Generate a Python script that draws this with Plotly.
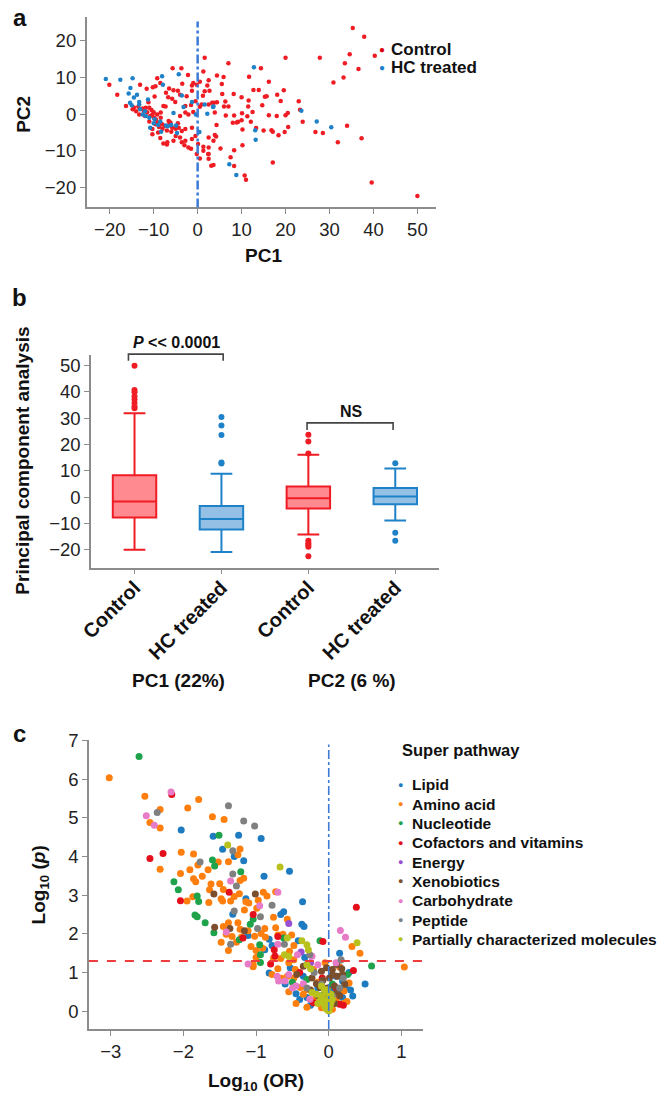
import plotly.graph_objects as go

# ---------------- panel a : PCA scores (PC1, PC2) ----------------
control_pts = [
    (-20.1, 8.0), (-18.3, 5.3), (-16.3, 2.2), (-14.8, 1.3), (-14.0, 0.8), (-13.3, -0.1), (-12.2, 0.8), (-11.8, 1.7),
    (-13.1, 8.0), (-11.6, 6.9), (-10.2, 7.3), (-9.2, 9.8), (-9.8, 4.8), (-9.6, 7.6), (-11.2, 3.2), (-10.5, 1.1),
    (-10.3, -0.1), (-9.9, -1.0), (-9.2, -0.1), (-8.4, 0.4), (-7.8, 2.2), (-7.3, 2.1), (-7.2, 5.8), (-5.7, 12.5),
    (-3.7, 12.5), (-5.5, 6.5), (-6.7, 4.6), (-5.8, 4.2), (-5.1, 3.3), (-4.0, 5.3), (-4.5, 6.4), (-2.8, 2.2),
    (-2.8, 0.4), (-2.2, 10.7), (-1.3, 7.8), (-1.0, 8.5), (-0.2, 8.0), (-1.3, 6.4), (-2.5, 4.9), (-2.1, -0.1),
    (-1.0, 0.6), (-8.1, -2.8), (-9.2, -2.3), (-6.6, -1.9), (-6.2, -2.3), (-5.8, -3.7), (-4.3, -3.7), (-3.6, -4.6),
    (-2.8, -4.1), (-1.3, -3.7), (-10.3, -5.5), (-6.9, -7.7), (-5.5, -7.3), (-4.0, -6.4), (-3.6, -7.7), (-2.8, -7.3),
    (-2.1, -9.1), (-1.3, -6.8), (0.1, -8.2), (1.3, -8.9), (1.3, -10.0), (-0.2, -10.9), (0.5, -12.1), (2.4, -10.9),
    (3.1, -14.1), (2.5, -9.1), (1.6, 6.2), (2.5, 2.6), (0.9, 2.6), (3.7, 3.1), (2.2, 7.8), (1.3, 11.6), (1.6, 15.4),
    (-11.0, 1.7), (-9.6, -2.8), (-8.4, -1.0), (-10.3, -4.1),
    (-12.5, 1.5), (-11.5, 0.5), (-10.8, -0.5), (-9.5, -1.5), (-8.8, -3.5), (-8.0, -4.0), (-7.5, -3.2), (-7.0, -4.5),
    (-6.5, -3.0), (-6.0, -4.8), (-5.0, -4.0), (-4.5, -2.5), (-9.0, -5.0), (-8.5, -6.5), (-7.8, -8.0), (-7.0, -8.3),
    (-5.0, -6.0), (-3.0, -8.5), (-1.5, -9.5), (-0.5, -6.0), (-13.5, 2.0), (-12.0, -0.5), (-11.0, -2.0), (-14.5, 1.8),
    (-10.0, 0.5), (-4.0, -0.5), (-1.5, 2.5), (-0.5, 3.5), (0.5, 8.8), (1.2, 5.0), (0.5, 2.0), (-3.5, 8.3),
    (-6.5, 7.0), (-8.5, 8.5),
    (35.3, 23.5), (37.9, 21.1), (20.0, 15.4), (27.8, 15.4), (34.6, 16.3), (40.3, 15.9), (33.5, 13.9), (36.6, 12.3),
    (7.0, 13.9), (14.4, 12.5), (11.7, 10.2), (16.2, 8.8), (30.9, 8.6), (33.2, 10.0), (4.4, 10.5), (5.9, 10.1),
    (2.5, 9.2), (5.5, 8.2), (2.7, 6.4), (5.6, 5.5), (8.2, 5.5), (10.0, 4.6), (12.7, 6.6), (13.9, 6.6),
    (15.3, 4.7), (15.7, 4.9), (11.6, 3.7), (11.5, 2.1), (14.7, 2.4), (18.1, 5.3), (19.6, 6.5), (18.9, 3.6),
    (23.0, 3.5), (3.3, 3.1), (4.4, 3.2), (6.3, 3.4), (7.0, 2.1), (6.0, 2.1), (3.9, 0.4), (6.4, -0.4),
    (8.3, -0.4), (10.1, 0.2), (11.3, -0.6), (12.5, 0.6), (16.2, -0.3), (18.0, -0.5), (20.0, -0.3), (20.5, 0.3),
    (23.3, 1.2), (23.9, -2.1), (4.3, -3.0), (8.0, -2.4), (8.9, -2.3), (9.2, -2.1), (10.0, -1.7), (12.1, -2.1),
    (10.2, -4.2), (13.3, -3.8), (15.0, -4.5), (16.8, -4.4), (17.1, -4.8), (18.4, -5.8), (19.8, -4.9), (20.6, -3.5),
    (26.8, -4.9), (28.5, -5.2), (34.0, -3.2), (31.9, -7.7), (37.3, -6.6), (3.9, -5.7), (4.2, -6.1), (3.6, -7.3),
    (5.2, -9.4), (8.3, -9.9), (10.2, -8.5), (7.5, -11.8), (8.3, -14.2), (3.6, -13.9), (10.7, -16.8), (11.0, -17.9),
    (17.1, -13.2), (39.6, -18.7), (50.0, -22.4), (2.5, -10.9), (2.5, -12.2), (2.5, -6.4),
]
hc_pts = [
    (-20.9, 9.6), (-17.6, 9.4), (-14.8, 9.8), (-15.3, 7.1), (-13.8, 5.3), (-15.7, 5.6), (-15.4, 3.1), (-15.0, 2.4),
    (-13.3, 3.3), (-13.3, 2.6), (-13.1, 1.3), (-11.3, 4.0), (-12.5, -0.1), (-11.8, -0.5), (-10.8, -3.7), (-9.8, -1.4),
    (-8.1, 10.3), (-7.9, 8.0), (-5.5, 0.3), (-4.3, 10.9), (-3.2, 1.9), (-3.6, 5.1), (-1.3, 3.3), (-7.2, -3.1),
    (-8.3, -4.8), (-6.8, -3.3), (-4.9, -3.1), (-4.7, -5.2), (0.4, -4.9), (1.6, 2.6), (2.2, 0.1), (-0.4, -0.1),
    (3.5, 1.9), (-12.0, 0.8), (-11.0, -1.0), (-10.0, -2.5), (-9.0, -3.0), (-6.0, -3.0), (-8.5, -2.0), (-14.5, 4.5),
    (12.8, 12.8), (3.6, 2.1), (23.6, 0.9), (27.1, -2.0), (30.4, -3.6), (13.1, -4.4), (13.2, -7.0), (7.2, -13.7),
    (8.8, -16.6),
]
pca_groups = [("Control", "#d9000b"), ("HC treated", "#1a80cc")]

# ---------------- panel b : box plots ----------------
box_groups = ["Control", "HC treated", "Control", "HC treated"]
box_q1 = [-7.8, -12.3, -4.3, -2.7]
box_median = [-1.7, -8.3, -0.4, 0.2]
box_q3 = [8.3, -3.4, 4.0, 3.5]
box_low = [-20.0, -20.9, -14.2, -8.9]
box_high = [31.9, 8.9, 16.1, 10.9]
outliers = [
    [50.0, 40.7, 39.9, 38.3, 37.1, 35.8, 34.5, 33.8],
    [30.5, 27.2, 23.6, 13.2, 12.8],
    [23.7, 21.1, 16.6, -16.6, -17.6, -18.2, -18.9, -22.5],
    [12.9, -13.6, -16.6],
]

# ---------------- panel c : volcano by super pathway ----------------
lipid_pts = [
    (-2.03, 4.69), (-1.59, 4.53), (-1.24, 4.55), (-0.93, 4.47), (-1.46, 4.19), (-1.30, 4.00), (-1.17, 3.89),
    (-0.89, 3.49), (-1.32, 2.51), (-1.14, 2.91), (-0.54, 3.62), (-0.36, 2.83), (-0.62, 2.57), (-0.66, 2.50),
    (-0.37, 2.25), (-0.34, 2.19), (-1.11, 1.96), (-0.82, 1.86), (-0.42, 1.82), (-0.88, 1.59), (-0.78, 1.70),
    (-0.33, 1.39), (0.15, 1.50), (0.50, 0.70), (0.33, 0.39), (-0.82, 0.99), (-0.53, 1.12), (-0.30, 1.21),
    (0.19, 0.35), (0.24, 0.61), (0.19, 0.78), (-0.30, 0.35), (-0.45, 0.45), (-0.35, 0.90), (-0.60, 0.70),
    (-0.15, 0.60), (0.10, 0.90), (-0.05, 0.15), (-0.25, 0.15), (0.05, 0.55), (0.28, 1.00), (-0.40, 0.30),
    (0.15, 1.15), (0.30, 0.55),
]
amino_pts = [
    (-3.02, 6.04), (-2.53, 5.56), (-1.79, 5.48), (-2.32, 5.22), (-1.94, 5.26), (-2.46, 4.88), (-2.32, 4.74),
    (-1.60, 5.03), (-1.44, 4.96), (-1.22, 4.20), (-1.25, 4.05), (-2.03, 4.11), (-1.86, 4.07), (-2.32, 3.67),
    (-1.52, 3.86), (-1.38, 3.87), (-1.80, 3.78), (-1.66, 3.66), (-1.91, 3.66), (-2.04, 3.56), (-1.74, 3.49),
    (-1.17, 3.44), (-1.22, 3.38), (-1.62, 3.29), (-1.50, 3.30), (-1.83, 3.35), (-1.86, 3.43), (-1.64, 3.14),
    (-1.45, 3.15), (-1.23, 3.04), (-1.30, 2.97), (-1.87, 2.96), (-1.95, 2.85), (-1.65, 2.81), (-1.48, 2.91),
    (-1.46, 2.85), (-1.35, 2.85), (-1.10, 2.80), (-1.16, 2.62), (-1.38, 2.29), (-1.25, 2.29), (-1.45, 2.19),
    (-1.22, 2.12), (-0.85, 2.98), (-0.76, 2.43), (-0.57, 2.38), (-0.88, 2.14), (-0.73, 2.16), (-1.11, 2.08),
    (-1.20, 1.92), (-1.41, 1.99), (-1.33, 1.93), (-1.27, 1.78), (-1.48, 1.78), (-1.02, 1.94), (-0.93, 2.01),
    (-0.87, 1.91), (-0.70, 1.97), (-0.63, 1.99), (-0.51, 1.97), (-1.07, 1.67), (-1.00, 1.57), (-0.91, 1.63),
    (-0.48, 1.70), (-0.54, 1.55), (-1.38, 1.57), (-1.00, 1.39), (-0.76, 1.37), (-0.66, 1.36), (-0.48, 1.33),
    (-1.04, 1.21), (-0.55, 1.25), (0.32, 1.67), (0.43, 1.50), (1.04, 1.14), (-1.04, 1.15), (-0.97, 2.87),
    (-0.99, 2.66), (-0.90, 3.08), (-0.73, 3.09), (-1.14, 2.83), (-0.78, 0.95), (-0.46, 1.08), (-0.21, 1.08),
    (0.15, 1.14), (-0.57, 0.90), (-0.48, 0.86), (-0.39, 0.61), (-0.30, 0.56), (0.21, 0.52), (0.28, 0.73),
    (-0.35, 0.44), (-0.10, 0.09), (-0.65, 0.85), (-0.70, 1.10), (-0.20, 0.30), (0.10, 0.30), (-0.45, 0.20),
    (-0.55, 0.50), (0.25, 0.25), (-0.05, 1.25), (-0.15, 0.75), (0.05, 0.05), (-0.30, 0.10), (0.20, 0.20),
]
nucleotide_pts = [
    (-2.61, 6.59), (-1.51, 4.55), (-1.60, 3.91), (-1.57, 3.76), (-1.21, 3.61), (-2.13, 3.35), (-2.07, 3.14),
    (-1.81, 2.98), (-1.79, 2.84), (-1.84, 2.49), (-1.81, 2.44), (-1.70, 2.29), (-1.58, 2.03), (-1.04, 2.38),
    (-1.08, 2.25), (-1.23, 1.85), (-0.62, 1.89), (-0.12, 1.82), (-0.95, 1.72), (-0.94, 1.46), (-0.94, 1.26),
    (0.59, 1.17), (-0.30, 0.82), (0.26, 0.95), (-0.10, 0.40), (-0.50, 0.75), (0.05, 0.70),
]
cofactor_pts = [
    (-2.16, 5.61), (-2.46, 3.95), (-2.28, 4.08), (-1.37, 3.08), (-2.04, 2.86), (-1.04, 2.50), (-1.18, 1.89),
    (-0.70, 1.93), (-0.08, 1.80), (-0.75, 1.59), (-0.74, 1.43), (-0.80, 1.22), (0.34, 1.05), (0.38, 2.69),
    (-0.09, 0.86), (-0.21, 0.22), (0.15, 0.18), (0.20, 0.15), (-0.40, 1.00), (0.10, 0.60),
]
energy_pts = [(-0.55, 2.27), (-0.38, 1.53), (-0.25, 1.25), (-0.05, 0.50)]
xeno_pts = [
    (-1.58, 3.03), (-1.01, 3.03), (-1.57, 2.17), (-1.36, 2.14), (-1.16, 2.08), (0.11, 1.21), (-0.35, 1.16),
    (-0.10, 1.03), (-0.03, 1.12), (0.05, 1.08), (-0.44, 0.95), (-0.23, 0.86), (-0.17, 0.71), (0.01, 0.86),
    (0.12, 0.90), (0.19, 0.95), (-0.12, 0.61), (0.08, 0.65), (0.12, 0.48), (-0.05, 0.45), (0.00, 0.30),
    (0.15, 0.40), (-0.15, 0.40), (0.08, 0.20), (-0.25, 0.55), (0.22, 0.70), (0.05, 0.95), (-0.08, 0.80),
    (0.18, 1.10), (-0.02, 0.60),
]
carb_pts = [
    (-2.17, 5.67), (-2.51, 5.06), (-2.40, 4.81), (-1.35, 3.37), (-0.95, 2.73), (-1.41, 2.05), (-0.70, 3.08),
    (-0.70, 1.73), (-0.43, 1.46), (-1.11, 1.22), (-0.23, 1.42), (0.16, 2.09), (0.23, 1.91), (-0.71, 0.90),
    (-0.69, 0.78), (-0.60, 0.78), (-0.45, 0.65), (-0.35, 0.71), (-0.26, 0.31), (-0.50, 0.60), (-0.15, 1.20),
    (0.10, 1.25), (-0.55, 0.95), (0.00, 0.20),
]
peptide_pts = [
    (-1.38, 5.32), (-2.36, 5.14), (-1.17, 4.92), (-1.02, 4.79), (-1.32, 4.15), (-1.77, 3.86), (-1.32, 3.55),
    (-1.27, 3.24), (-1.30, 2.59), (-0.78, 2.74), (-0.94, 2.44), (-0.98, 2.14), (-1.35, 1.73), (-0.61, 1.73),
    (-0.26, 1.46), (0.17, 1.33), (-0.20, 1.00), (0.05, 0.40), (-0.10, 0.70), (0.20, 0.85), (-0.30, 0.60),
    (0.15, 0.60),
]
partial_pts = [
    (-1.39, 4.30), (-0.67, 3.73), (-0.57, 1.89), (-0.37, 1.82), (-0.30, 1.72), (-0.28, 1.59), (-0.61, 1.46),
    (-0.55, 1.42), (0.39, 1.77), (-0.06, 0.56), (-0.23, 0.48), (-0.17, 0.44), (-0.10, 0.39), (-0.03, 0.48),
    (0.03, 0.44), (-0.12, 0.26), (-0.06, 0.18), (-0.01, 0.26), (0.03, 0.22), (-0.03, 0.05), (0.00, 0.00),
    (-0.08, 0.30), (0.00, 0.35), (-0.05, 0.10), (0.02, 0.12), (-0.15, 0.20), (0.05, 0.30), (-0.02, 0.55),
    (-0.25, 1.10), (-0.30, 1.20), (-0.10, 0.65),
]

pathways = [
    ("Lipid", lipid_pts, "#1f7bbf"),
    ("Amino acid", amino_pts, "#ff7f0e"),
    ("Nucleotide", nucleotide_pts, "#1ea34a"),
    ("Cofactors and vitamins", cofactor_pts, "#e3101c"),
    ("Energy", energy_pts, "#9a4fd0"),
    ("Xenobiotics", xeno_pts, "#7b4e2e"),
    ("Carbohydrate", carb_pts, "#e77bc7"),
    ("Peptide", peptide_pts, "#808080"),
    ("Partially characterized molecules", partial_pts, "#b9c21c"),
]

RED = "#f01c24"
BLUE = "#1f82c8"
FONT = "Liberation Sans, Arial, sans-serif"
W, H = 671, 1093


def px(x):
    return x / W


def py(y):
    return 1 - y / H


fig = go.Figure()

# panel a
fig.add_trace(go.Scatter(x=[p[0] for p in control_pts], y=[p[1] for p in control_pts], mode="markers",
                         marker=dict(size=4.5, color=RED), name="Control", xaxis="x", yaxis="y"))
fig.add_trace(go.Scatter(x=[p[0] for p in hc_pts], y=[p[1] for p in hc_pts], mode="markers",
                         marker=dict(size=4.5, color=BLUE), name="HC treated", xaxis="x", yaxis="y"))

# panel b
box_line = [RED, BLUE, RED, BLUE]
box_fill = ["#ff8a90", "#93c0e4", "#ff8a90", "#93c0e4"]
for i in range(4):
    fig.add_trace(go.Box(x=[i], q1=[box_q1[i]], median=[box_median[i]], q3=[box_q3[i]],
                         lowerfence=[box_low[i]], upperfence=[box_high[i]], width=0.5, whiskerwidth=0.5,
                         line=dict(color=box_line[i], width=2), fillcolor=box_fill[i],
                         boxpoints=False, xaxis="x2", yaxis="y2"))
    fig.add_trace(go.Scatter(x=[i] * len(outliers[i]), y=outliers[i], mode="markers",
                             marker=dict(size=6, color=box_line[i]), xaxis="x2", yaxis="y2"))

# panel c
for name, pts, col in pathways:
    fig.add_trace(go.Scatter(x=[p[0] for p in pts], y=[p[1] for p in pts], mode="markers", name=name,
                             marker=dict(size=7, color=col), xaxis="x3", yaxis="y3"))


def axis(**kw):
    d = dict(showline=True, linecolor="#8c8c8c", linewidth=1.5, ticks="outside", ticklen=5,
             tickcolor="#8c8c8c", tickwidth=1.2, showgrid=False, zeroline=False,
             tickfont=dict(family=FONT, size=18.5, color="#222"))
    d.update(kw)
    return d


fig.update_layout(
    width=W, height=H, margin=dict(l=0, r=0, t=0, b=0),
    plot_bgcolor="white", paper_bgcolor="white", showlegend=False,
    font=dict(family=FONT, size=17, color="#111"),
    xaxis=axis(domain=[px(76), px(432)], range=[-25.26, 54.3], tickvals=[-20, -10, 0, 10, 20, 30, 40, 50], anchor="y"),
    yaxis=axis(domain=[py(199.3), py(6.7)], range=[-25.5, 26.6], tickvals=[-20, -10, 0, 10, 20], anchor="x"),
    xaxis2=axis(domain=[px(80.5), px(434.5)], range=[-0.5, 3.5], tickvals=[0, 1, 2, 3], ticktext=box_groups,
                tickangle=-45, anchor="y2", ticklabelstandoff=-6,
                tickfont=dict(family=FONT, size=20, color="#111", weight="bold")),
    yaxis2=axis(domain=[py(562.7), py(348.3)], range=[-26.8, 54.0], tickvals=[-20, -10, 0, 10, 20, 30, 40, 50], anchor="x2"),
    xaxis3=axis(domain=[px(78.3), px(418.7)], range=[-3.3, 1.3], tickvals=[-3, -2, -1, 0, 1], anchor="y3"),
    yaxis3=axis(domain=[py(1028.3), py(736.7)], range=[-0.46, 7.02], tickvals=list(range(8)), anchor="x3"),
)

# reference lines
fig.add_shape(type="line", xref="x", yref="y", x0=0, x1=0, y0=-25.5, y1=25.3,
              line=dict(color="#3b7bd6", width=2.5, dash="dashdot"))
fig.add_shape(type="line", xref="x3", yref="y3", x0=0, x1=0, y0=-0.46, y1=6.9,
              line=dict(color="#3b7bd6", width=1.6, dash="dashdot"))
fig.add_shape(type="line", xref="x3", yref="y3", x0=-3.3, x1=1.3, y0=1.3, y1=1.3,
              line=dict(color="#f03c3c", width=2, dash="dash"))

# significance brackets in panel b
for x0, x1, ytop, yend in [(-0.07, 1.02, 347.3, 354), (1.985, 2.975, 416.7, 424)]:
    fig.add_shape(type="path", xref="x2", yref="paper",
                  path=f"M {x0},{py(yend)} L {x0},{py(ytop)} L {x1},{py(ytop)} L {x1},{py(yend)}",
                  line=dict(color="#444", width=1.6))


def note(text, x, y, size=18, angle=0, weight="bold", color="#111", xanchor="center"):
    fig.add_annotation(text=text, x=px(x), y=py(y), xref="paper", yref="paper", showarrow=False,
                       textangle=angle, xanchor=xanchor, yanchor="middle",
                       font=dict(family=FONT, size=size, color=color, weight=weight))


note("a", 8, 8, size=24)
note("b", 8, 290, size=24)
note("c", 8, 730, size=24)
note("PC2", 11, 105, size=19, angle=-90)
note("PC1", 256, 248, size=19)
note("Principal component analysis", 11, 455, size=19, angle=-90)
note("<i>P</i> &lt;&lt; 0.0001", 167, 336, size=16)
note("NS", 346, 405, size=16)
note("PC1 (22%)", 170, 677, size=19)
note("PC2 (6 %)", 346, 677, size=19)
note("Super pathway", 457, 747, size=16.5)
note("Log<sub>10</sub> (<i>p</i>)", 28, 883, size=19, angle=-90)
note("Log<sub>10</sub> (OR)", 248, 1082, size=19)

# legends drawn as bullet + label text
for k, (name, col) in enumerate(pca_groups):
    note("●", 377, 40 + 18 * k, size=10, color=col)
    note(name, 384, 40 + 18 * k, size=17, xanchor="left")
for k, (name, _, col) in enumerate(pathways):
    note("●", 396, 782 + 19.5 * k, size=9, color=col)
    note(name, 405, 782 + 19.5 * k, size=15.5, xanchor="left")

fig.write_html("out.html", config={"displayModeBar": False},
               post_script="document.body.style.margin='0px';")
